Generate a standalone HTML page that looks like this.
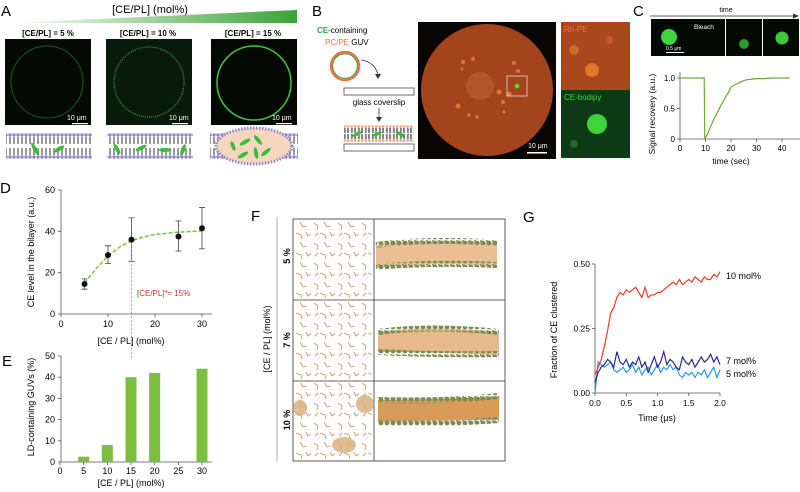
<!DOCTYPE html>
<html><head><meta charset="utf-8"><style>
body{margin:0;background:#fff;}
svg{display:block;font-family:"Liberation Sans",sans-serif;}
</style></head><body>
<svg id="fig" width="800" height="492" viewBox="0 0 800 492">
<defs>
<linearGradient id="wedge" x1="0" x2="1"><stop offset="0" stop-color="#fff"/><stop offset="1" stop-color="#3aa33a"/></linearGradient>
<pattern id="lipA" width="4" height="28" patternUnits="userSpaceOnUse" y="132">
<circle cx="2" cy="3" r="1.7" fill="#8c85c8"/><line x1="1.4" y1="5" x2="1.4" y2="12" stroke="#555" stroke-width="0.6"/><line x1="2.6" y1="5" x2="2.6" y2="12" stroke="#555" stroke-width="0.6"/>
<line x1="1.4" y1="16" x2="1.4" y2="23" stroke="#555" stroke-width="0.6"/><line x1="2.6" y1="16" x2="2.6" y2="23" stroke="#555" stroke-width="0.6"/><circle cx="2" cy="25" r="1.7" fill="#8c85c8"/>
</pattern>
<pattern id="lipB" width="3.5" height="17" patternUnits="userSpaceOnUse" y="125">
<circle cx="1.7" cy="1.5" r="1.3" fill="#f0a070"/><line x1="1.2" y1="3" x2="1.2" y2="8" stroke="#333" stroke-width="0.6"/><line x1="2.2" y1="3" x2="2.2" y2="8" stroke="#333" stroke-width="0.6"/>
<line x1="1.2" y1="9" x2="1.2" y2="14" stroke="#333" stroke-width="0.6"/><line x1="2.2" y1="9" x2="2.2" y2="14" stroke="#333" stroke-width="0.6"/><circle cx="1.7" cy="15.5" r="1.3" fill="#f0a070"/>
</pattern>
<pattern id="mol" width="24" height="20" patternUnits="userSpaceOnUse">
<path d="M2 3 l4 3 l-1 4 M12 2 l3 5 l4 -1 M8 13 l5 2 l1 4 M18 12 l2 4 l3 -2 M3 16 l3 -3" stroke="#c89a6a" stroke-width="0.9" fill="none"/>
</pattern>
<pattern id="memb" width="6" height="6" patternUnits="userSpaceOnUse">
<circle cx="3" cy="3" r="2.4" fill="#7a8a55"/><circle cx="0" cy="0" r="2" fill="#98a070"/>
</pattern>
</defs>

<!-- Panel A -->
<text x="1" y="16" font-size="15">A</text>
<text x="150" y="13" font-size="11" text-anchor="middle">[CE/PL] (mol%)</text>
<polygon points="8,23 297,10 297,23" fill="url(#wedge)"/>
<g font-size="8" font-weight="bold" text-anchor="middle">
<text x="48" y="36">[CE/PL] = 5 %</text>
<text x="148" y="36">[CE/PL] = 10 %</text>
<text x="253" y="36">[CE/PL] = 15 %</text>
</g>
<g><rect x="5" y="39" width="86" height="86" fill="#050a05"/><circle cx="47" cy="82" r="36" fill="none" stroke="#1c5a1c" stroke-width="1"/></g>
<g><rect x="106" y="39" width="86" height="86" fill="#0a1a0a"/><circle cx="149" cy="82" r="35" fill="none" stroke="#3a9a3a" stroke-width="1.2" stroke-dasharray="1 1"/></g>
<g><rect x="211" y="39" width="86" height="86" fill="#030803"/><circle cx="254" cy="83" r="37" fill="none" stroke="#3cc83c" stroke-width="1.5"/></g>
<g fill="#fff" font-size="7">
<rect x="72" y="123" width="16" height="1.2"/><text x="67" y="120">10 μm</text>
<rect x="172" y="123" width="16" height="1.2"/><text x="169" y="120">10 μm</text>
<rect x="276" y="123" width="16" height="1.2"/><text x="272" y="120">10 μm</text>
</g>
<g><rect x="6" y="132" width="86" height="28" fill="url(#lipA)"/>
<ellipse cx="35" cy="149" rx="7" ry="2" fill="#3dbb3d" transform="rotate(60 35 149)"/><ellipse cx="59" cy="149" rx="6" ry="2" fill="#3dbb3d" transform="rotate(-30 59 149)"/></g>
<g><rect x="107" y="132" width="86" height="28" fill="url(#lipA)"/>
<ellipse cx="117" cy="149" rx="6" ry="2" fill="#3dbb3d" transform="rotate(60 117 149)"/><ellipse cx="141" cy="148" rx="6" ry="2" fill="#3dbb3d" transform="rotate(-25 141 148)"/><ellipse cx="165" cy="150" rx="6" ry="2" fill="#3dbb3d"/><ellipse cx="183" cy="150" rx="6" ry="2" fill="#3dbb3d" transform="rotate(-70 183 150)"/></g>
<g><rect x="210" y="132" width="88" height="28" fill="url(#lipA)"/>
<ellipse cx="254" cy="146" rx="38" ry="18" fill="#f6d6bf" stroke="#8c85c8" stroke-width="3" stroke-dasharray="1.5 1.5"/>
<g fill="#3dbb3d"><ellipse cx="245" cy="142" rx="6" ry="2" transform="rotate(-30 245 142)"/><ellipse cx="258" cy="140" rx="6" ry="2" transform="rotate(50 258 140)"/><ellipse cx="266" cy="152" rx="6" ry="2" transform="rotate(-40 266 152)"/><ellipse cx="243" cy="155" rx="6" ry="2" transform="rotate(-30 243 155)"/><ellipse cx="256" cy="153" rx="6" ry="2" transform="rotate(80 256 153)"/><ellipse cx="233" cy="146" rx="5" ry="2" transform="rotate(70 233 146)"/></g></g>

<!-- Panel B -->
<text x="312" y="16" font-size="15">B</text>
<text x="317" y="33" font-size="8"><tspan fill="#2aa84a" font-weight="bold">CE</tspan>-containing</text>
<text x="325" y="45" font-size="8"><tspan fill="#f07040">PC/PE</tspan> GUV</text>
<circle cx="345" cy="66" r="14" fill="none" stroke="#f07040" stroke-width="2.5"/>
<circle cx="345" cy="66" r="12.3" fill="none" stroke="#2aa84a" stroke-width="1"/>
<path d="M361 60 Q375 62 378 75" fill="none" stroke="#333" stroke-width="0.8"/><polygon points="375,74 381,74 378,79" fill="#333"/>
<rect x="344" y="88" width="70" height="7" fill="#fff" stroke="#444" stroke-width="0.8"/>
<text x="379" y="105" font-size="8" text-anchor="middle">glass coverslip</text>
<line x1="379" y1="108" x2="379" y2="119" stroke="#333" stroke-width="0.8"/><polygon points="376,117 382,117 379,122" fill="#333"/>
<rect x="344" y="125" width="70" height="17" fill="url(#lipB)"/>
<g fill="#3dbb3d"><ellipse cx="357" cy="134" rx="5" ry="1.7" transform="rotate(-25 357 134)"/><ellipse cx="377" cy="134" rx="5" ry="1.7" transform="rotate(-20 377 134)"/><ellipse cx="400" cy="134" rx="5" ry="1.7" transform="rotate(30 400 134)"/></g>
<rect x="344" y="144" width="70" height="7" fill="#fff" stroke="#444" stroke-width="0.8"/>
<g>
<rect x="418" y="22" width="138" height="137" fill="#080505"/>
<circle cx="487" cy="90" r="66" fill="#a4441c"/>
<circle cx="480" cy="86" r="14" fill="#c0603a" opacity="0.6"/>
<g fill="#e0743a"><circle cx="463" cy="62" r="2"/><circle cx="473" cy="59" r="2"/><circle cx="514" cy="63" r="2"/><circle cx="518" cy="71" r="2"/><circle cx="499" cy="92" r="2.5"/><circle cx="509" cy="94" r="2.5"/><circle cx="458" cy="106" r="2.5"/><circle cx="503" cy="102" r="2"/><circle cx="469" cy="115" r="1.7"/><circle cx="477" cy="117" r="1.7"/><circle cx="504" cy="112" r="1.7"/><circle cx="462" cy="69" r="1.5"/></g>
<rect x="507" y="76" width="20" height="20" fill="none" stroke="#ddd" stroke-width="0.8"/>
<circle cx="517" cy="86" r="2.3" fill="#5adc3a"/>
<rect x="527" y="152" width="20" height="1.5" fill="#fff"/><text x="528" y="148" font-size="7" fill="#fff">10 μm</text>
</g>
<g><rect x="561" y="22" width="69" height="68" fill="#a8481c"/>
<circle cx="574" cy="50" r="5" fill="#d06a2a"/><circle cx="592" cy="70" r="7" fill="#e0742a"/><circle cx="609" cy="40" r="4" fill="#c05828"/>
<text x="564" y="32" font-size="8" fill="#ff6a3a">Rh-PE</text></g>
<g><rect x="561" y="90" width="69" height="68" fill="#0d3a14"/>
<circle cx="597" cy="124" r="10" fill="#3ed43e"/><circle cx="574" cy="144" r="4" fill="#1e6a22"/>
<text x="564" y="100" font-size="8" fill="#3ed43e">CE-bodipy</text></g>

<!-- Panel C -->
<text x="633" y="16" font-size="15">C</text>
<text x="726" y="12" font-size="7" text-anchor="middle">time</text>
<line x1="650" y1="16" x2="795" y2="16" stroke="#333" stroke-width="0.7"/><polygon points="793,13.5 799,16 793,18.5" fill="#333"/>
<g>
<rect x="651" y="19" width="37" height="37" fill="#030a03"/><circle cx="669" cy="37" r="8" fill="#3ed43e"/>
<rect x="688" y="19" width="37" height="37" fill="#030a03"/><text x="694" y="29" font-size="6.5" fill="#fff">Bleach</text>
<rect x="726" y="19" width="36" height="37" fill="#030a03"/><circle cx="744" cy="44" r="5" fill="#2a9a2a"/>
<rect x="763" y="19" width="36" height="37" fill="#030a03"/><circle cx="782" cy="38" r="6.5" fill="#3ec83e"/>
<rect x="666" y="52" width="18" height="1" fill="#fff"/><text x="666" y="50" font-size="5" fill="#fff">0.5 μm</text>
</g>
<g id="chartC"></g>

<!-- Panel D -->
<text x="0" y="193" font-size="15">D</text>
<g id="chartD"></g>
<!-- Panel E -->
<text x="2" y="366" font-size="15">E</text>
<g id="chartE"></g>

<!-- Panel F -->
<text x="251" y="221" font-size="15">F</text>
<line x1="277" y1="217" x2="277" y2="461" stroke="#999" stroke-width="0.8"/>
<text transform="translate(270 339) rotate(-90)" font-size="9" text-anchor="middle">[CE / PL] (mol%)</text>
<g>
<rect x="293" y="219" width="212" height="242" fill="#fff" stroke="#333" stroke-width="0.8"/>
<line x1="374" y1="219" x2="374" y2="461" stroke="#333" stroke-width="0.8"/>
<line x1="293" y1="300" x2="505" y2="300" stroke="#333" stroke-width="0.8"/>
<line x1="293" y1="381" x2="505" y2="381" stroke="#333" stroke-width="0.8"/>
<rect x="295" y="221" width="77" height="77" fill="url(#mol)"/>
<rect x="295" y="302" width="77" height="77" fill="url(#mol)"/>
<rect x="295" y="383" width="77" height="76" fill="url(#mol)"/>
<ellipse cx="300" cy="408" rx="7" ry="8" fill="#d8aa78" opacity="0.8"/><ellipse cx="365" cy="404" rx="9" ry="9" fill="#d8aa78" opacity="0.8"/><ellipse cx="344" cy="445" rx="12" ry="8" fill="#d8aa78" opacity="0.8"/>
<g>
<path d="M376 245 Q430 238 497 243 L497 266 Q430 262 376 268 Z" fill="#d88a3a" opacity="0.55"/>
<path d="M376 245 Q430 238 497 243" stroke="url(#memb)" stroke-width="6" fill="none"/>
<path d="M376 267 Q430 262 497 265" stroke="url(#memb)" stroke-width="6" fill="none"/>
<path d="M378 332 Q430 325 499 332 L499 355 Q430 352 378 352 Z" fill="#d88a3a" opacity="0.6"/>
<path d="M378 332 Q430 325 499 332" stroke="url(#memb)" stroke-width="6" fill="none"/>
<path d="M378 352 Q430 355 499 354" stroke="url(#memb)" stroke-width="6" fill="none"/>
<path d="M378 400 Q430 400 499 396 L499 420 Q430 420 378 422 Z" fill="#cc7a20" opacity="0.75"/>
<path d="M378 400 Q440 402 499 396" stroke="url(#memb)" stroke-width="6" fill="none"/>
<path d="M378 422 Q430 425 499 420" stroke="url(#memb)" stroke-width="6" fill="none"/>
</g>
</g>
<g font-size="9" font-weight="bold" text-anchor="middle">
<text transform="translate(290 256) rotate(-90)">5 %</text>
<text transform="translate(290 340) rotate(-90)">7 %</text>
<text transform="translate(290 420) rotate(-90)">10 %</text>
</g>

<!-- Panel G -->
<text x="523" y="222" font-size="15">G</text>
<g id="chartG"></g>
</svg>

<script>
// ---- Chart C data ----
const cTime = [0,9.5,9.7,10,11,12,13,14,15,16,17,18,19,20,22,24,26,28,30,33,36,39,43];
const cSignal = [1,1,0.01,0.02,0.1,0.2,0.3,0.38,0.46,0.55,0.62,0.7,0.76,0.85,0.9,0.94,0.97,0.98,0.99,0.99,1,1,1];
const cXTicks = [0,10,20,30,40];
const cYTicks = [0,0.5,1.0];
const cYTickLabels = ["0","0.5","1.0"];
// ---- Chart D data ----
const dConc = [5,10,15,25,30];
const dLevel = [14.5,28.5,36,37.5,41.5];
const dErrLow = [12,24.5,25.5,30.5,31.5];
const dErrHigh = [17,33,46.5,45,51.5];
const dFitX = [5,7.5,10,12.5,15,17.5,20,25,30];
const dFitY = [15,22,28,32.5,35.5,37.3,38.5,39.6,40.2];
const dXTicks = [0,10,20,30];
const dYTicks = [0,20,40,60];
// ---- Chart E data ----
const eConc = [5,10,15,20,30];
const ePercent = [2.5,8,40,42,44];
const eXTicks = [0,5,10,15,20,25,30];
const eYTicks = [0,10,20,30,40,50];
// ---- Chart G data ----
const gTime = [0,0.05,0.1,0.15,0.2,0.25,0.3,0.35,0.4,0.45,0.5,0.55,0.6,0.65,0.7,0.75,0.8,0.85,0.9,0.95,1.0,1.05,1.1,1.15,1.2,1.25,1.3,1.35,1.4,1.45,1.5,1.55,1.6,1.65,1.7,1.75,1.8,1.85,1.9,1.95,2.0];
const g10 = [0.07,0.10,0.13,0.18,0.24,0.31,0.33,0.37,0.39,0.38,0.40,0.39,0.40,0.41,0.39,0.37,0.41,0.37,0.38,0.38,0.39,0.39,0.40,0.41,0.42,0.43,0.42,0.44,0.42,0.43,0.44,0.43,0.45,0.44,0.43,0.45,0.44,0.44,0.46,0.45,0.47];
const g7 = [0.04,0.08,0.10,0.11,0.13,0.12,0.10,0.16,0.12,0.11,0.13,0.10,0.12,0.11,0.14,0.10,0.12,0.08,0.11,0.14,0.10,0.12,0.16,0.11,0.13,0.12,0.10,0.09,0.14,0.12,0.11,0.13,0.10,0.12,0.14,0.12,0.13,0.15,0.12,0.14,0.11];
const g5 = [0.0,0.12,0.11,0.10,0.11,0.12,0.09,0.08,0.09,0.10,0.08,0.09,0.11,0.08,0.10,0.07,0.09,0.10,0.07,0.09,0.11,0.08,0.10,0.09,0.11,0.09,0.10,0.07,0.06,0.08,0.07,0.08,0.06,0.08,0.07,0.09,0.06,0.08,0.10,0.06,0.09];
const gXTicks = [0,0.5,1.0,1.5,2.0];
const gXTickLabels = ["0.0","0.5","1.0","1.5","2.0"];
const gYTicks = [0,0.25,0.5];
const gYTickLabels = ["0.00","0.25","0.50"];

const NS = "http://www.w3.org/2000/svg";
function mk(parent, tag, attrs, text) {
  const e = document.createElementNS(NS, tag);
  for (const k in attrs) e.setAttribute(k, attrs[k]);
  if (text !== undefined) e.textContent = text;
  parent.appendChild(e);
  return e;
}
function lin(d0, d1, r0, r1) { return v => r0 + (v - d0) * (r1 - r0) / (d1 - d0); }

// ---- C ----
(function(){
  const g = document.getElementById('chartC');
  const x = lin(0, 40, 680, 782), y = lin(0, 1, 139, 78);
  mk(g,'line',{x1:680,y1:72,x2:680,y2:139,stroke:'#555','stroke-width':0.8});
  mk(g,'line',{x1:680,y1:139,x2:800,y2:139,stroke:'#555','stroke-width':0.8});
  cXTicks.forEach(t=>{ mk(g,'line',{x1:x(t),y1:139,x2:x(t),y2:142,stroke:'#555','stroke-width':0.8});
    const l = mk(g,'text',{x:x(t),y:151,'font-size':8,'text-anchor':'middle'},String(t));
      });
  cYTicks.forEach((t,i)=>{ mk(g,'line',{x1:677,y1:y(t),x2:680,y2:y(t),stroke:'#555','stroke-width':0.8});
    const l = mk(g,'text',{x:675,y:y(t)+3,'font-size':8,'text-anchor':'end'},cYTickLabels[i]);
      });
  const p = mk(g,'polyline',{points:cTime.map((t,i)=>x(t)+','+y(cSignal[i])).join(' '),fill:'none',stroke:'#6aaa3a','stroke-width':1.2});
   
  const xt = mk(g,'text',{x:731,y:164,'font-size':8.5,'text-anchor':'middle'},'time (sec)');
   
  const yt = mk(g,'text',{transform:'translate(655 114) rotate(-90)','font-size':8.5,'text-anchor':'middle'},'Signal recovery (a.u.)');
   
})();

// ---- D ----
(function(){
  const g = document.getElementById('chartD');
  const x = lin(0, 30, 61, 202), y = lin(0, 60, 314, 190);
  mk(g,'line',{x1:61,y1:190,x2:61,y2:314,stroke:'#555','stroke-width':0.8});
  mk(g,'line',{x1:61,y1:314,x2:212,y2:314,stroke:'#555','stroke-width':0.8});
  dXTicks.forEach(t=>{ mk(g,'line',{x1:x(t),y1:314,x2:x(t),y2:317,stroke:'#555','stroke-width':0.8});
    const l = mk(g,'text',{x:x(t),y:327,'font-size':9,'text-anchor':'middle'},String(t));
      });
  dYTicks.forEach(t=>{ mk(g,'line',{x1:58,y1:y(t),x2:61,y2:y(t),stroke:'#555','stroke-width':0.8});
    const l = mk(g,'text',{x:55,y:y(t)+3,'font-size':9,'text-anchor':'end'},String(t));
      });
  const fit = mk(g,'polyline',{points:dFitX.map((v,i)=>x(v)+','+y(dFitY[i])).join(' '),fill:'none',stroke:'#7cc040','stroke-width':1.5,'stroke-dasharray':'4 2'});
   
  dConc.forEach((c,i)=>{
    const e = mk(g,'path',{d:`M${x(c)} ${y(dErrLow[i])}V${y(dErrHigh[i])}M${x(c)-3} ${y(dErrLow[i])}h6M${x(c)-3} ${y(dErrHigh[i])}h6`,stroke:'#444','stroke-width':0.8,fill:'none'});
     
    const pt = mk(g,'circle',{cx:x(c),cy:y(dLevel[i]),r:3,fill:'#111'});
     
  });
  const v = mk(g,'line',{x1:x(15),y1:y(34),x2:x(15),y2:360,stroke:'#f08050','stroke-width':0.9,'stroke-dasharray':'2 2'});
   
  const tl = mk(g,'text',{x:137,y:296,'font-size':8,fill:'#c0392b'},'[CE/PL]*≈ 15%');
   
  const xt = mk(g,'text',{x:131,y:344,'font-size':9,'text-anchor':'middle'},'[CE / PL] (mol%)');
   
  const yt = mk(g,'text',{transform:'translate(34 252) rotate(-90)','font-size':9,'text-anchor':'middle'},'CE level in the bilayer (a.u.)');
   
})();

// ---- E ----
(function(){
  const g = document.getElementById('chartE');
  const x = lin(0, 30, 60, 202), y = lin(0, 50, 462, 356);
  mk(g,'line',{x1:61,y1:356,x2:61,y2:462,stroke:'#555','stroke-width':0.8});
  mk(g,'line',{x1:61,y1:462,x2:212,y2:462,stroke:'#555','stroke-width':0.8});
  eConc.forEach((c,i)=>{
    const b = mk(g,'rect',{x:x(c)-5.5,y:y(ePercent[i]),width:11,height:462-y(ePercent[i]),fill:'#7cbf3e'});
     
  });
  eXTicks.forEach(t=>{ mk(g,'line',{x1:x(t),y1:462,x2:x(t),y2:465,stroke:'#555','stroke-width':0.8});
    const l = mk(g,'text',{x:x(t),y:474,'font-size':9,'text-anchor':'middle'},String(t));
      });
  eYTicks.forEach(t=>{ mk(g,'line',{x1:58,y1:y(t),x2:61,y2:y(t),stroke:'#555','stroke-width':0.8});
    const l = mk(g,'text',{x:55,y:y(t)+3,'font-size':9,'text-anchor':'end'},String(t));
      });
  const xt = mk(g,'text',{x:131,y:486,'font-size':9,'text-anchor':'middle'},'[CE / PL] (mol%)');
   
  const yt = mk(g,'text',{transform:'translate(34 407) rotate(-90)','font-size':9,'text-anchor':'middle'},'LD-containing GUVs (%)');
   
})();

// ---- G ----
(function(){
  const g = document.getElementById('chartG');
  const x = lin(0, 2, 595, 720), y = lin(0, 0.5, 393, 264);
  mk(g,'line',{x1:595,y1:264,x2:595,y2:393,stroke:'#555','stroke-width':0.8});
  mk(g,'line',{x1:595,y1:393,x2:720,y2:393,stroke:'#555','stroke-width':0.8});
  gXTicks.forEach((t,i)=>{ mk(g,'line',{x1:x(t),y1:393,x2:x(t),y2:396,stroke:'#555','stroke-width':0.8});
    const l = mk(g,'text',{x:x(t),y:406,'font-size':8.5,'text-anchor':'middle'},gXTickLabels[i]);
      });
  gYTicks.forEach((t,i)=>{ mk(g,'line',{x1:592,y1:y(t),x2:595,y2:y(t),stroke:'#555','stroke-width':0.8});
    const l = mk(g,'text',{x:590,y:y(t)+3,'font-size':8.5,'text-anchor':'end'},gYTickLabels[i]);
      });
  const series = [[g5,'#2a9ae0','series-5-mol'],[g7,'#2a2a8a','series-7-mol'],[g10,'#f03a2a','series-10-mol']];
  series.forEach(s=>{
    const p = mk(g,'polyline',{points:gTime.map((t,i)=>x(t)+','+y(s[0][i])).join(' '),fill:'none',stroke:s[1],'stroke-width':1.2});
     
  });
  const l1 = mk(g,'text',{x:726,y:279,'font-size':9},'10 mol%');  
  const l2 = mk(g,'text',{x:726,y:364,'font-size':9},'7 mol%');  
  const l3 = mk(g,'text',{x:726,y:377,'font-size':9},'5 mol%');  
  const xt = mk(g,'text',{x:657,y:421,'font-size':9,'text-anchor':'middle'},'Time (μs)');
   
  const yt = mk(g,'text',{transform:'translate(557 330) rotate(-90)','font-size':9,'text-anchor':'middle'},'Fraction of CE clustered');
   
})();
</script>
</body></html>
